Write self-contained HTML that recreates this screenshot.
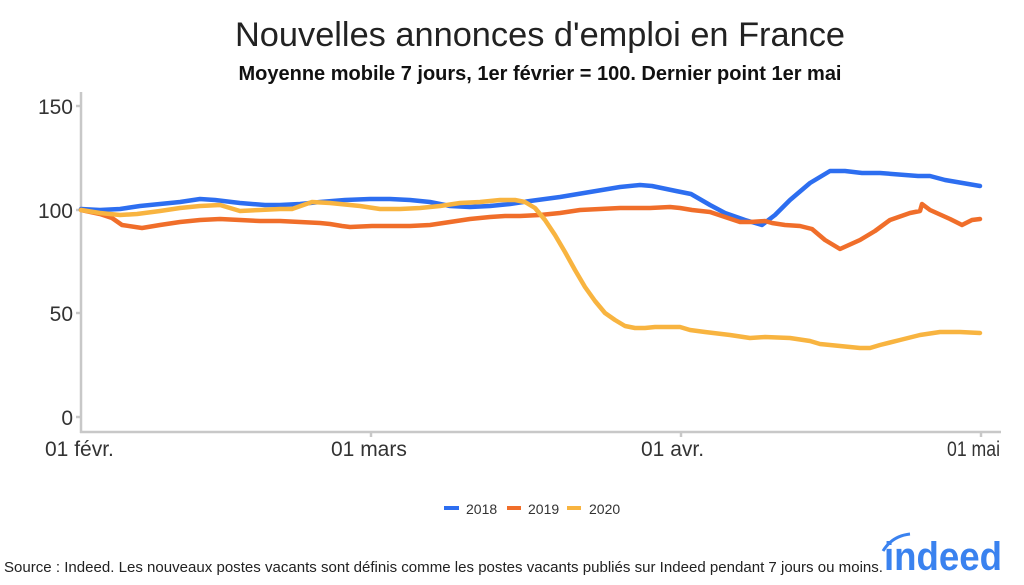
<!DOCTYPE html>
<html><head><meta charset="utf-8"><style>
body{margin:0;width:1024px;height:580px;background:#fff;overflow:hidden;font-family:"Liberation Sans",sans-serif;}
</style></head><body>
<svg width="1024" height="580" xmlns="http://www.w3.org/2000/svg" font-family="Liberation Sans, sans-serif">
<text x="540" y="46" text-anchor="middle" font-size="34.5" fill="#222" textLength="610" lengthAdjust="spacingAndGlyphs">Nouvelles annonces d'emploi en France</text>
<text x="540" y="80" text-anchor="middle" font-size="20" font-weight="bold" fill="#111">Moyenne mobile 7 jours, 1er février = 100. Dernier point 1er mai</text>
<g stroke="#c8c8c8" stroke-width="2.5" fill="none">
<line x1="81" y1="92" x2="81" y2="433"/>
<line x1="80" y1="432" x2="1001" y2="432"/>
<line x1="76" y1="106" x2="81" y2="106"/><line x1="76" y1="210" x2="81" y2="210"/>
<line x1="76" y1="313" x2="81" y2="313"/><line x1="76" y1="417" x2="81" y2="417"/>
<line x1="371" y1="432" x2="371" y2="437"/><line x1="681" y1="432" x2="681" y2="437"/><line x1="981" y1="432" x2="981" y2="437"/>
</g>
<g font-size="21" fill="#333" text-anchor="end">
<text x="73" y="114">150</text><text x="73" y="218">100</text><text x="73" y="321">50</text><text x="73" y="425">0</text>
</g>
<g font-size="21" fill="#333">
<text x="45" y="456">01 févr.</text><text x="331" y="456">01 mars</text><text x="641" y="456">01 avr.</text><text x="947" y="456" textLength="53" lengthAdjust="spacingAndGlyphs">01 mai</text>
</g>
<g fill="none" stroke-width="4.5" stroke-linejoin="round" stroke-linecap="round">
<polyline stroke="#2d6ef0" points="81,209 100,210 120,209 140,206 160,204 180,202 200,199 215,200 240,203 265,205 280,205 300,204 320,202 345,200 370,199 390,199 410,200 430,202 450,206 470,207 490,206 510,204 530,201 560,197 590,192 620,187 640,185 652,186 676,191 691,194 710,205 725,213 745,220 762,225 775,215 790,200 810,183 830,171 845,171 862,173 880,173 905,175 918,176 930,176 945,180 980,186"/>
<polyline stroke="#f06e2a" points="81,210 100,214 112,218 122,225 142,228 160,225 180,222 200,220 220,219 240,220 260,221 280,221 300,222 320,223 330,224 342,226 350,227 372,226 390,226 410,226 430,225 450,222 470,219 490,217 505,216 520,216 540,215 560,213 580,210 600,209 620,208 650,208 670,207 680,208 692,210 710,212 725,217 740,222 750,222 765,221 772,223 785,225 800,226 812,229 825,240 840,249 860,240 875,231 890,220 910,213 920,211 922,204 930,210 950,219 962,225 972,220 980,219"/>
<polyline stroke="#f8b440" points="81,210 100,213 120,215 137,214 160,211 180,208 200,206 220,205 240,211 260,210 280,209 292,209 312,202 330,203 350,205 360,206 380,209 400,209 420,208 440,206 460,203 480,202 500,200 515,200 525,202 535,208 545,220 555,235 565,252 575,270 585,287 595,301 605,313 615,320 625,326 635,328 645,328 655,327 680,327 690,330 705,332 730,335 750,338 765,337 790,338 810,341 820,344 840,346 860,348 870,348 880,345 900,340 920,335 940,332 960,332 980,333"/>
</g>
<g font-size="14" fill="#333">
<rect x="444" y="506" width="15" height="4" fill="#2d6ef0"/><text x="466" y="514">2018</text>
<rect x="507" y="506" width="14" height="4" fill="#f06e2a"/><text x="528" y="514">2019</text>
<rect x="567" y="506" width="14" height="4" fill="#f8b440"/><text x="589" y="514">2020</text>
</g>
<text x="4" y="572" font-size="14.5" fill="#222" textLength="879" lengthAdjust="spacingAndGlyphs">Source : Indeed. Les nouveaux postes vacants sont définis comme les postes vacants publiés sur Indeed pendant 7 jours ou moins.</text>
<text x="884" y="570" font-size="40" font-weight="bold" fill="#3a82ef" textLength="118" lengthAdjust="spacingAndGlyphs">indeed</text>
<path d="M883,551 Q892,536 910,534" stroke="#3a82ef" stroke-width="3" fill="none"/>
</svg>
</body></html>
